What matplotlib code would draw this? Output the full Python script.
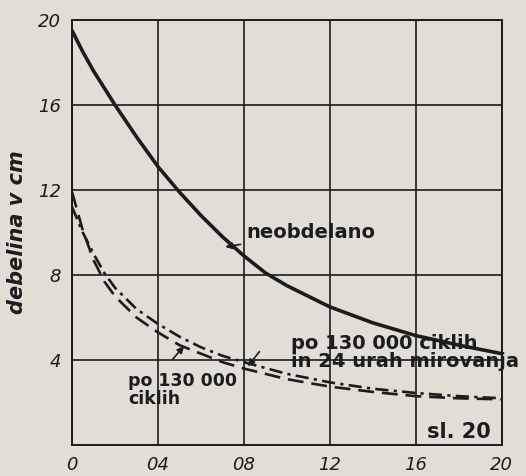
import numpy as np
import matplotlib.pyplot as plt

# thickness vs. distance
x_neob = [0.0, 0.05, 0.1, 0.2, 0.3, 0.4, 0.5, 0.6, 0.7, 0.8, 0.9, 1.0, 1.2, 1.4, 1.6, 1.8, 2.0]
y_neob = [19.5, 18.5, 17.6, 16.0, 14.5, 13.1, 11.9, 10.8, 9.8, 8.9, 8.1, 7.5, 6.5, 5.75, 5.15, 4.7, 4.3]

x_cikli = [0.0, 0.05, 0.1, 0.15, 0.2, 0.3, 0.4, 0.5, 0.6, 0.7, 0.8, 1.0, 1.2, 1.4, 1.6, 1.8, 2.0]
y_cikli = [11.9, 10.1, 8.7, 7.7, 7.0, 6.0, 5.3, 4.7, 4.3, 3.9, 3.6, 3.1, 2.75, 2.5, 2.3, 2.2, 2.15]

x_mirov = [0.0, 0.05, 0.1, 0.15, 0.2, 0.3, 0.4, 0.5, 0.6, 0.7, 0.8, 1.0, 1.2, 1.4, 1.6, 1.8, 2.0]
y_mirov = [11.2, 10.0, 9.0, 8.1, 7.4, 6.4, 5.7, 5.1, 4.6, 4.2, 3.9, 3.35, 2.95, 2.65, 2.45, 2.3, 2.2]

x_ticks = [0, 0.4, 0.8, 1.2, 1.6, 2.0]
x_labels = ["0", "04", "08", "12", "16", "20"]
y_ticks = [4, 8, 12, 16, 20]
y_labels = ["4", "8", "12", "16", "20"]

paper = "#e1ded5"
ink = "#1c1c1c"

fig = plt.figure(figsize=(5.26, 4.76), dpi=100, facecolor=paper)
ax = fig.add_axes([0.137, 0.065, 0.817, 0.893], facecolor=paper)

ax.plot(x_neob, y_neob, color=ink, lw=2.6, solid_capstyle="round")
ax.plot(x_cikli, y_cikli, color=ink, lw=1.9, dashes=(6, 3))
ax.plot(x_mirov, y_mirov, color=ink, lw=1.9, dashes=(5, 2, 1.2, 2))

ax.set_xlim(0, 2.0)
ax.set_ylim(0, 20)
ax.set_xticks(x_ticks)
ax.set_xticklabels(x_labels)
ax.set_yticks(y_ticks)
ax.set_yticklabels(y_labels)
ax.tick_params(length=0, labelsize=13, colors=ink, pad=8)
for lab in ax.get_xticklabels() + ax.get_yticklabels():
    lab.set_fontstyle("italic")
ax.grid(True, color=ink, lw=1.2)
for s in ax.spines.values():
    s.set_color(ink)
    s.set_linewidth(1.4)

ax.set_ylabel("debelina v cm", fontsize=15, fontweight="bold", style="italic",
              color=ink, labelpad=8)

txt = dict(color=ink, fontweight="bold")
arr = dict(arrowstyle="-|>", color=ink, lw=1.2, mutation_scale=10)

ax.annotate("neobdelano", xy=(0.70, 9.3), xytext=(0.81, 10.0), va="center",
            fontsize=14, arrowprops=arr, **txt)

ax.text(0.26, 2.6, "po 130 000\nciklih", va="center", fontsize=12.5,
        linespacing=1.0, **txt)
ax.annotate("", xy=(0.53, 4.75), xytext=(0.46, 3.95), arrowprops=arr)

ax.text(1.02, 4.35, "po 130 000 ciklih\nin 24 urah mirovanja", va="center",
        fontsize=14, linespacing=0.95, clip_on=False, **txt)
ax.annotate("", xy=(0.81, 3.6), xytext=(0.88, 4.5), arrowprops=arr)

ax.text(1.95, 0.6, "sl. 20", ha="right", va="center", fontsize=15, **txt)

fig.savefig("out.png", dpi=100, facecolor=paper)
